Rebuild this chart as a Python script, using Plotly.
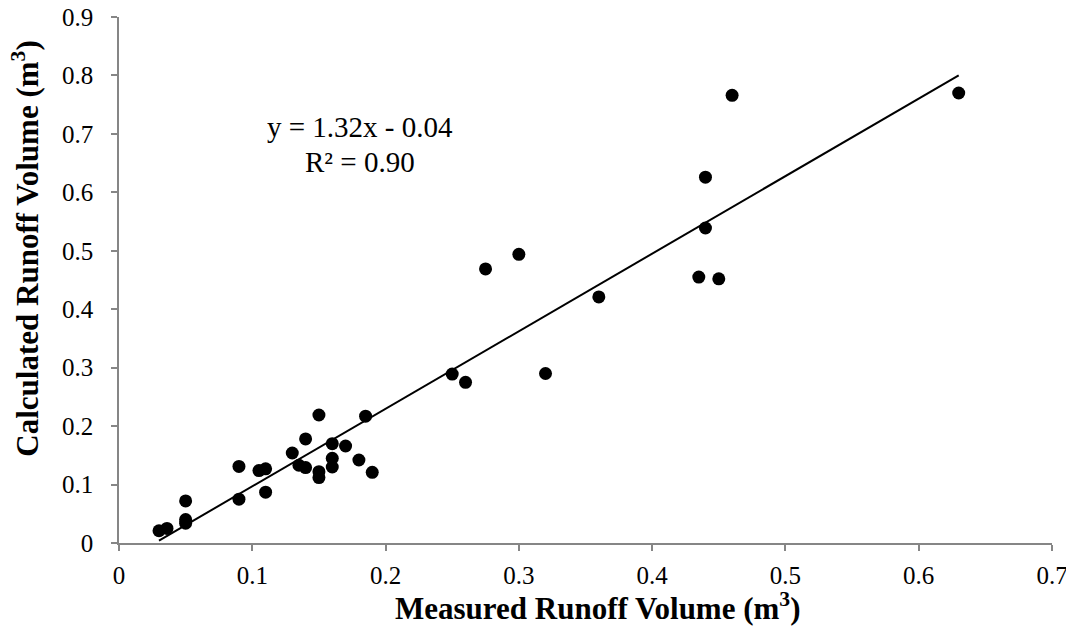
import numpy as np
import plotly.graph_objects as go

measured = [0.030, 0.036, 0.050, 0.050, 0.050, 0.090, 0.090, 0.105, 0.110, 0.110,
            0.130, 0.140, 0.150, 0.135, 0.140, 0.150, 0.150, 0.160, 0.160, 0.160,
            0.170, 0.180, 0.185, 0.190, 0.250, 0.260, 0.275, 0.300, 0.320, 0.360,
            0.435, 0.440, 0.440, 0.450, 0.460, 0.630]
calculated = [0.021, 0.025, 0.072, 0.040, 0.034, 0.131, 0.075, 0.124, 0.127, 0.087,
              0.154, 0.178, 0.219, 0.133, 0.129, 0.122, 0.112, 0.170, 0.145, 0.130,
              0.166, 0.142, 0.217, 0.121, 0.289, 0.275, 0.469, 0.494, 0.290, 0.421,
              0.455, 0.539, 0.626, 0.452, 0.766, 0.770]

equation_text = "y = 1.32x - 0.04"
r2_text = "R² = 0.90"
x_title = "<b>Measured Runoff Volume (m<sup>3</sup>)</b>"
y_title = "<b>Calculated Runoff Volume (m<sup>3</sup>)</b>"
x_ticks = [0, 0.1, 0.2, 0.3, 0.4, 0.5, 0.6, 0.7]
y_ticks = [0, 0.1, 0.2, 0.3, 0.4, 0.5, 0.6, 0.7, 0.8, 0.9]

x_arr = np.array(measured)
y_arr = np.array(calculated)
slope, intercept = np.polyfit(x_arr, y_arr, 1)
trend_x = np.array([x_arr.min(), x_arr.max()])
trend_y = slope * trend_x + intercept

FONT = "Liberation Serif, Times New Roman, serif"
AXIS_COLOR = "#868686"

fig = go.Figure()
fig.add_trace(go.Scatter(x=trend_x, y=trend_y, mode="lines",
                         line=dict(color="black", width=2), showlegend=False,
                         hoverinfo="skip"))
fig.add_trace(go.Scatter(x=measured, y=calculated, mode="markers",
                         marker=dict(color="black", size=13, line=dict(width=0)),
                         showlegend=False))

fig.add_annotation(x=0.2587, y=0.7907, xref="paper", yref="paper", text=equation_text,
                   showarrow=False, font=dict(family=FONT, size=29, color="black"),
                   xanchor="center", yanchor="middle")
fig.add_annotation(x=0.2587, y=0.724, xref="paper", yref="paper", text=r2_text,
                   showarrow=False, font=dict(family=FONT, size=29, color="black"),
                   xanchor="center", yanchor="middle")

# axis titles
fig.add_annotation(x=0.513, y=-0.1213, xref="paper", yref="paper", text=x_title,
                   showarrow=False, font=dict(family=FONT, size=31, color="black"),
                   xanchor="center", yanchor="middle")
fig.add_annotation(x=-0.1005, y=0.560, xref="paper", yref="paper", text=y_title,
                   showarrow=False, textangle=-90,
                   font=dict(family=FONT, size=31, color="black"),
                   xanchor="center", yanchor="middle")

fig.update_xaxes(range=[0, 0.7], tickvals=x_ticks, ticktext=[f"{v:g}" for v in x_ticks],
                 showgrid=False, zeroline=False, showline=True, linecolor=AXIS_COLOR,
                 linewidth=1.5, ticks="outside", ticklen=6, tickcolor=AXIS_COLOR,
                 tickwidth=1.5, ticklabelstandoff=3, ticklabeloverflow="allow",
                 tickfont=dict(family=FONT, size=25, color="black"))
fig.update_yaxes(range=[0, 0.9], tickvals=y_ticks, ticktext=[f"{v:g}" for v in y_ticks],
                 showgrid=False, zeroline=False, showline=True, linecolor=AXIS_COLOR,
                 linewidth=1.5, ticks="outside", ticklen=6, tickcolor=AXIS_COLOR,
                 tickwidth=1.5, ticklabelstandoff=13, ticklabeloverflow="allow",
                 tickfont=dict(family=FONT, size=25, color="black"))

# the page body adds an 8px offset, so margins are shifted to compensate
fig.update_layout(width=1074, height=638, plot_bgcolor="white", paper_bgcolor="white",
                  margin=dict(l=111, r=30, t=9, b=103, autoexpand=False), showlegend=False)

fig.write_html("out.html")
